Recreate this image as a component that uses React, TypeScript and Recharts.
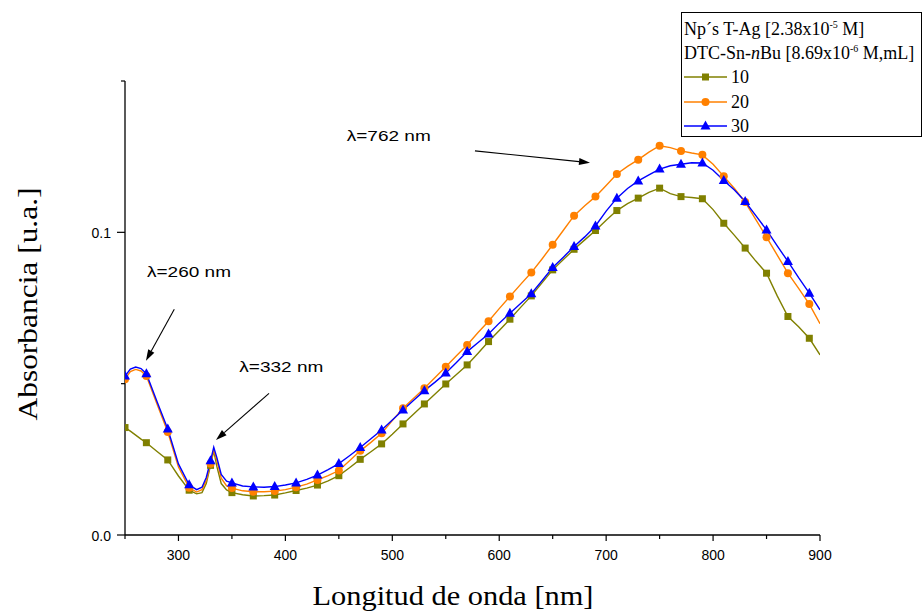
import React from 'react';
import { LineChart, Line, XAxis, YAxis, ReferenceLine, ReferenceDot, Legend, Label } from 'recharts';

// Wavelength (nm)
const wavelengths = [
  250, 255, 260, 265, 270, 280, 290, 300, 310, 317, 322, 326, 330, 333, 336, 340, 345, 350,
  360, 370, 380, 390, 400, 410, 420, 430, 440, 450, 460, 470, 480, 490, 500, 510, 520, 530,
  540, 550, 560, 570, 580, 590, 600, 610, 620, 630, 640, 650, 660, 670, 680, 690, 700, 710,
  720, 730, 740, 750, 760, 770, 780, 790, 800, 810, 820, 830, 840, 850, 860, 870, 880, 890, 900,
];

// Absorbance, 10 mL
const abs10 = [
  0.0355, 0.0343, 0.033, 0.0317, 0.0305, 0.0276, 0.0248, 0.0195, 0.0148, 0.0136, 0.014, 0.017,
  0.023, 0.0278, 0.0225, 0.017, 0.0149, 0.014,
  0.0133, 0.0129, 0.013, 0.0132, 0.0139, 0.0147, 0.0155, 0.0165, 0.0179, 0.0196, 0.0222, 0.025,
  0.0275, 0.0301, 0.0333, 0.0367, 0.04, 0.0433, 0.0466, 0.0499, 0.053, 0.0562, 0.06, 0.0639,
  0.0676, 0.0713, 0.0752, 0.079, 0.0833, 0.0876, 0.091, 0.0944, 0.0975, 0.1006, 0.104, 0.1072,
  0.1095, 0.1113, 0.1132, 0.1146, 0.1128, 0.1118, 0.1115, 0.1111, 0.1075, 0.103, 0.099, 0.0948,
  0.0905, 0.0865, 0.079, 0.0722, 0.0688, 0.065, 0.0595,
];

// Absorbance, 20 mL
const abs20 = [
  0.0515, 0.054, 0.0547, 0.0542, 0.0525, 0.0432, 0.034, 0.0225, 0.0156, 0.0142, 0.015, 0.018,
  0.0235, 0.0282, 0.0245, 0.0188, 0.0162, 0.0155,
  0.0146, 0.0143, 0.0143, 0.0145, 0.015, 0.0158, 0.0168, 0.0182, 0.0196, 0.0213, 0.0245, 0.0278,
  0.0306, 0.0336, 0.0378, 0.0419, 0.0452, 0.0485, 0.052, 0.0556, 0.0592, 0.0628, 0.0668, 0.0706,
  0.0748, 0.0788, 0.0828, 0.0867, 0.0912, 0.0959, 0.1007, 0.1055, 0.1088, 0.1118, 0.1155, 0.1193,
  0.1218, 0.124, 0.1265, 0.1286, 0.128, 0.1269, 0.1262, 0.1256, 0.1225, 0.1185, 0.1145, 0.11,
  0.1042, 0.0984, 0.0925, 0.0865, 0.0815, 0.0763, 0.0698,
];

// Absorbance, 30 mL
const abs30 = [
  0.0525, 0.0548, 0.0555, 0.055, 0.0533, 0.044, 0.035, 0.0235, 0.0166, 0.015, 0.0158, 0.019,
  0.0245, 0.029, 0.0255, 0.02, 0.0178, 0.0172,
  0.0162, 0.0159, 0.0158, 0.016, 0.0165, 0.0172, 0.0184, 0.0198, 0.0216, 0.0236, 0.0262, 0.0289,
  0.0318, 0.0347, 0.038, 0.0413, 0.0445, 0.0477, 0.0505, 0.0535, 0.057, 0.0606, 0.0635, 0.0664,
  0.07, 0.0733, 0.0765, 0.0797, 0.084, 0.0884, 0.0918, 0.0953, 0.0985, 0.1021, 0.107, 0.1113,
  0.1145, 0.117, 0.119, 0.1209, 0.122, 0.1225, 0.123, 0.1229, 0.1205, 0.1171, 0.114, 0.1102,
  0.1055, 0.1008, 0.0955, 0.0904, 0.085, 0.0799, 0.0744,
];

const seriesNames = ['10', '20', '30'];
const seriesColors = ['#808000', '#ff8000', '#0000ff'];
const seriesMarkers = ['square', 'circle', 'triangle'];

const xTicks = [250, 300, 350, 400, 450, 500, 550, 600, 650, 700, 750, 800, 850, 900];
const yTicks = [0, 0.05, 0.1, 0.15];
const yTickLabels: Record<string, string> = { '0': '0.0', '0.1': '0.1' };

const annotationTexts = ['\u03bb=762 nm', '\u03bb=260 nm', '\u03bb=332 nm'];
const annotationTextX = [457.4, 270.6, 356.9];
const annotationTextY = [0.1318, 0.087, 0.0554];
const arrowFromX = [577.3, 296.1, 384.7];
const arrowFromY = [0.1269, 0.0746, 0.0468];
const arrowToX = [684.9, 269.6, 335.1];
const arrowToY = [0.123, 0.0576, 0.0314];

const data = wavelengths.map((wl, i) => ({ wl, s10: abs10[i], s20: abs20[i], s30: abs30[i] }));

const isMarker = (wl: number) => wl <= 890 && (wl - 250) % 20 === 0;

function markerShape(kind: string, cx: number, cy: number, color: string) {
  if (kind === 'square') return <rect x={cx - 3.5} y={cy - 3.5} width={7} height={7} fill={color} />;
  if (kind === 'circle') return <circle cx={cx} cy={cy} r={4} fill={color} />;
  return <polygon points={`${cx},${cy - 5.5} ${cx - 5},${cy + 3.5} ${cx + 5},${cy + 3.5}`} fill={color} />;
}

const makeDot = (kind: string, color: string) => (props: any) => {
  const { cx, cy, payload, index } = props;
  if (!payload || !isMarker(payload.wl) || cx == null || cy == null) return <g key={`e-${index}`} />;
  return <g key={`m-${index}`}>{markerShape(kind, cx, cy, color)}</g>;
};

const XTick = (props: any) => {
  const { x, y, payload } = props;
  const v = payload.value;
  const major = v % 100 === 0 && v !== 250;
  return (
    <g>
      <line x1={x} x2={x} y1={y} y2={y + (major ? 6 : 4)} stroke="#000" strokeWidth={1.2} />
      {major && (
        <text x={x} y={y + 25} textAnchor="middle" fontFamily='"Liberation Sans", Arial, sans-serif' fontSize={14} fill="#000">
          {v}
        </text>
      )}
    </g>
  );
};

const YTick = (props: any) => {
  const { x, y, payload } = props;
  const label = yTickLabels[String(payload.value)];
  const major = label !== undefined;
  return (
    <g>
      <line x1={x - (major ? 8 : 4)} x2={x} y1={y} y2={y} stroke="#000" strokeWidth={1.2} />
      {major && (
        <text x={x - 14} y={y + 5.5} textAnchor="end" fontFamily='"Liberation Sans", Arial, sans-serif' fontSize={14} fill="#000">
          {label}
        </text>
      )}
    </g>
  );
};

const Arrow = (props: any) => {
  const { x1, y1, x2, y2 } = props;
  const dx = x2 - x1;
  const dy = y2 - y1;
  const len = Math.sqrt(dx * dx + dy * dy) || 1;
  const ux = dx / len;
  const uy = dy / len;
  const hl = 11;
  const hw = 3.5;
  const bx = x2 - ux * hl;
  const by = y2 - uy * hl;
  return (
    <g>
      <line x1={x1} y1={y1} x2={bx} y2={by} stroke="#000" strokeWidth={1.1} />
      <polygon
        points={`${x2},${y2} ${bx - uy * hw},${by + ux * hw} ${bx + uy * hw},${by - ux * hw}`}
        fill="#000"
      />
    </g>
  );
};

const makeAnnotationText = (text: string) => (props: any) => (
  <text
    x={props.cx}
    y={props.cy + 5}
    fontFamily='"Liberation Sans", Arial, sans-serif'
    fontSize={15}
    textLength={84}
    lengthAdjust="spacingAndGlyphs"
    fill="#000"
  >
    {text}
  </text>
);

const LegendBox = () => (
  <div
    style={{
      boxSizing: 'border-box',
      width: 241,
      height: 125,
      border: '1px solid #000',
      background: '#fff',
      fontFamily: '"Liberation Serif", "Times New Roman", serif',
      fontSize: 18,
      color: '#000',
      paddingTop: 4,
      paddingLeft: 2,
      whiteSpace: 'nowrap',
      overflow: 'hidden',
      textAlign: 'left',
    }}
  >
    <div style={{ height: 24, lineHeight: '24px' }}>
      Np´s T-Ag [2.38x10<span style={{ fontSize: 10, position: 'relative', top: -7 }}>-5</span> M]
    </div>
    <div style={{ height: 24, lineHeight: '24px' }}>
      DTC-Sn-<i>n</i>Bu [8.69x10<span style={{ fontSize: 10, position: 'relative', top: -7 }}>-6</span> M,mL]
    </div>
    {seriesNames.map((name, i) => (
      <div key={name} style={{ height: 24.5, lineHeight: '24px', display: 'flex', alignItems: 'center' }}>
        <svg width={47} height={24} style={{ display: 'block' }}>
          <line x1={0} x2={43} y1={12} y2={12} stroke={seriesColors[i]} strokeWidth={1.5} />
          {markerShape(seriesMarkers[i], 21.5, 12, seriesColors[i])}
        </svg>
        <span>{name}</span>
      </div>
    ))}
  </div>
);

export default function App() {
  return (
    <div style={{ position: 'absolute', left: 0, top: 0, background: '#fff' }}>
      <LineChart width={924} height={611} data={data} margin={{ top: 81, right: 104, bottom: 0, left: 0 }}>
        <XAxis
          dataKey="wl"
          type="number"
          domain={[250, 900]}
          ticks={xTicks}
          interval={0}
          allowDataOverflow
          height={76}
          tickSize={0}
          tickMargin={0}
          tick={<XTick />}
          axisLine={{ stroke: '#000', strokeWidth: 1.3 }}
          tickLine={false}
        >
          <Label
            content={(p: any) => (
              <text
                x={p.viewBox.x + 328}
                y={p.viewBox.y + 70}
                textAnchor="middle"
                fontFamily='"Liberation Serif", "Times New Roman", serif'
                fontSize={28}
                textLength={281}
                lengthAdjust="spacingAndGlyphs"
                fill="#000"
              >
                Longitud de onda [nm]
              </text>
            )}
          />
        </XAxis>
        <YAxis
          type="number"
          domain={[0, 0.15]}
          ticks={yTicks}
          interval={0}
          allowDataOverflow
          width={125}
          tickSize={0}
          tickMargin={0}
          tick={<YTick />}
          axisLine={{ stroke: '#000', strokeWidth: 1.3 }}
          tickLine={false}
        >
          <Label
            content={() => (
              <text
                x={0}
                y={0}
                transform="translate(37, 304) rotate(-90)"
                textAnchor="middle"
                fontFamily='"Liberation Serif", "Times New Roman", serif'
                fontSize={28}
                textLength={233}
                lengthAdjust="spacingAndGlyphs"
                fill="#000"
              >
                Absorbancia [u.a.]
              </text>
            )}
          />
        </YAxis>
        <Line
          dataKey="s10"
          name={seriesNames[0]}
          stroke={seriesColors[0]}
          strokeWidth={1.4}
          dot={makeDot(seriesMarkers[0], seriesColors[0])}
          activeDot={false}
          isAnimationActive={false}
        />
        <Line
          dataKey="s20"
          name={seriesNames[1]}
          stroke={seriesColors[1]}
          strokeWidth={1.4}
          dot={makeDot(seriesMarkers[1], seriesColors[1])}
          activeDot={false}
          isAnimationActive={false}
        />
        <Line
          dataKey="s30"
          name={seriesNames[2]}
          stroke={seriesColors[2]}
          strokeWidth={1.4}
          dot={makeDot(seriesMarkers[2], seriesColors[2])}
          activeDot={false}
          isAnimationActive={false}
        />
        {annotationTexts.map((t, i) => (
          <ReferenceLine
            key={`arrow-${i}`}
            segment={[
              { x: arrowFromX[i], y: arrowFromY[i] },
              { x: arrowToX[i], y: arrowToY[i] },
            ]}
            shape={<Arrow />}
          />
        ))}
        {annotationTexts.map((t, i) => (
          <ReferenceDot
            key={`txt-${i}`}
            x={annotationTextX[i]}
            y={annotationTextY[i]}
            r={0}
            shape={makeAnnotationText(t)}
          />
        ))}
        <Legend
          layout="horizontal"
          verticalAlign="middle"
          align="center"
          content={() => <LegendBox />}
          wrapperStyle={{ position: 'absolute', left: 681, top: 12, width: 241, height: 125, margin: 0 }}
        />
      </LineChart>
    </div>
  );
}
